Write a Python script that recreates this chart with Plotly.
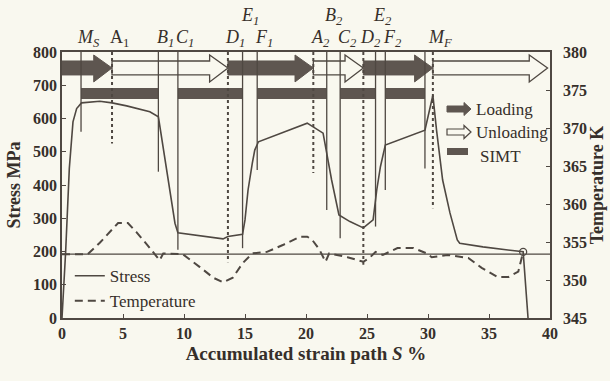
import plotly.graph_objects as go

# ---------------- data ----------------
stress_x = [0, 0.3, 0.6, 0.9, 1.2, 1.6, 3.1, 4.1, 5.3, 6.4, 7.2, 7.9, 9.26, 9.5, 13.2, 13.6,
            14.8, 15.0, 15.25, 15.6, 15.8, 16.1, 20.1, 21.4, 21.6, 22.1, 22.7, 23.6, 24.7, 25.5,
            25.8, 26.1, 26.5, 29.75, 30.4, 30.7, 31.2, 31.8, 32.4, 32.6, 34.5, 36.7, 37.8, 38.2]
stress_y = [0, 200, 450, 590, 630, 647, 652, 647, 638, 628, 620, 605, 285, 256, 238, 245,
            252, 295, 385, 466, 505, 530, 586, 556, 515, 415, 310, 290, 271, 295,
            385, 455, 520, 565, 670, 565, 415, 316, 235, 225, 214, 205, 199, 0]

temp_x = [0, 2.1, 3.1, 4.6, 5.4, 6.1, 7.0, 7.8, 8.0, 8.3, 9.9, 11.3, 12.4, 13.2, 14.0, 14.8,
          15.6, 16.8, 18.1, 19.5, 20.1, 20.5, 21.1, 21.6, 21.9, 23.4, 24.7, 25.2, 25.7, 26.3,
          27.5, 28.8, 29.9, 30.3, 31.6, 33.3, 34.4, 35.7, 36.6, 37.4, 37.8]
temp_y = [353.4, 353.4, 354.9, 357.5, 357.5, 356.3, 354.6, 353.0, 352.6, 353.5, 353.4, 351.7,
          350.3, 349.7, 350.3, 352.2, 353.5, 353.7, 354.6, 355.7, 355.7, 355.3, 354.0, 352.4,
          353.5, 353.0, 352.4, 352.9, 353.7, 353.3, 354.2, 354.2, 353.5, 353.0, 353.3, 352.9,
          351.6, 350.4, 350.4, 351.1, 353.7]

ambient_temp = 353.4

# characteristic points: label, strain position, lower end of marker line (stress), style, row
event_labels = ["<i>M<sub>S</sub></i>", "A<sub>1</sub>", "<i>B<sub>1</sub></i>", "<i>C<sub>1</sub></i>",
                "<i>D<sub>1</sub></i>", "<i>E<sub>1</sub></i>", "<i>F<sub>1</sub></i>", "<i>A<sub>2</sub></i>",
                "<i>B<sub>2</sub></i>", "<i>C<sub>2</sub></i>", "<i>D<sub>2</sub></i>", "<i>E<sub>2</sub></i>",
                "<i>F<sub>2</sub></i>", "", "<i>M<sub>F</sub></i>"]
event_x = [1.56, 4.1, 7.9, 9.5, 13.6, 14.8, 16.0, 20.6, 21.7, 22.8, 24.7, 25.7, 26.5, 29.75, 30.4]
event_bottom = [560, 525, 440, 205, 168, 210, 445, 436, 325, 240, 160, 275, 385, 450, 330]
event_dotted = [False, True, False, False, True, False, False, True, False, False, True, False, False, False, True]
event_upper = [False, False, False, False, False, True, False, False, True, False, False, True, False, False, False]

# loading / unloading arrows (start, end) and SIMT bars (start, end), in strain %
loading_spans = [(0, 4.1), (13.6, 20.6), (24.7, 30.4)]
unloading_spans = [(4.1, 13.6), (20.6, 24.7), (30.4, 39.8)]
simt_spans = [(1.56, 7.9), (9.5, 14.8), (16.0, 21.7), (22.8, 25.7), (26.5, 29.75)]

# ---------------- style ----------------
BG = "#f9f8ef"
INK = "#4f4842"
DARK = "#5e5650"
TXT = "#362f2a"
FONT = "Liberation Serif"

W, H = 610, 381
ML, MR, MT, MB = 62, 60, 52, 63
PW, PH = W - ML - MR, H - MT - MB

fig = go.Figure()

fig.add_trace(go.Scatter(x=stress_x, y=stress_y, mode="lines", name="Stress",
                         line=dict(color=INK, width=1.6), yaxis="y"))
fig.add_trace(go.Scatter(x=temp_x, y=temp_y, mode="lines", name="Temperature",
                         line=dict(color=INK, width=2, dash="8px,5px"), yaxis="y2"))
fig.add_trace(go.Scatter(x=temp_x[-1:], y=temp_y[-1:], mode="markers", showlegend=False,
                         marker=dict(symbol="circle-open", size=7, color=INK, line=dict(width=1.3)),
                         yaxis="y2"))

# ambient temperature line
fig.add_shape(type="line", xref="x", yref="y2", x0=0, x1=40, y0=ambient_temp, y1=ambient_temp,
              line=dict(color=INK, width=1.4))

# arrows
B0, B1_, H0, H1 = 731, 773, 710, 791
HEAD = 1.5
def arrow_path(a, b):
    m = (B0 + B1_) / 2
    return (f"M {a},{B0} L {b-HEAD},{B0} L {b-HEAD},{H0} L {b},{m} L {b-HEAD},{H1} "
            f"L {b-HEAD},{B1_} L {a},{B1_} Z")

for a, b in unloading_spans:
    fig.add_shape(type="path", xref="x", yref="y", path=arrow_path(a, b),
                  fillcolor=BG, line=dict(color=INK, width=1.3))
for a, b in loading_spans:
    fig.add_shape(type="path", xref="x", yref="y", path=arrow_path(a, b),
                  fillcolor=DARK, line=dict(color=DARK, width=1))
for a, b in simt_spans:
    fig.add_shape(type="rect", xref="x", yref="y", x0=a, x1=b, y0=659, y1=692,
                  fillcolor=DARK, line=dict(width=0))

# marker lines and labels
for lab, x, bot, dotted, upper in zip(event_labels, event_x, event_bottom, event_dotted, event_upper):
    fig.add_shape(type="line", xref="x", yref="y", x0=x, x1=x, y0=800, y1=bot,
                  line=dict(color=INK, width=2 if dotted else 1.3, dash="dot" if dotted else "solid"))
    if lab:
        fig.add_annotation(x=x, xref="x", y=1.135 if upper else 1.05, yref="paper",
                           text=lab, showarrow=False, xanchor="center", yanchor="middle",
                           xshift=7, font=dict(family=FONT, size=18, color=TXT))

# right-side legend (paper coords, from target-pixel positions)
def px2paper(px, py):
    return (px - ML) / PW, (H - MB - py) / PH

lx0, ly = px2paper(447, 109)
lx1, _ = px2paper(471, 109)
hx, _ = px2paper(464, 109)
dy = 3 / PH
dh = 6.5 / PH
fig.add_shape(type="path", xref="paper", yref="paper",
              path=f"M {lx0},{ly-dy} L {hx},{ly-dy} L {hx},{ly-dh} L {lx1},{ly} L {hx},{ly+dh} L {hx},{ly+dy} L {lx0},{ly+dy} Z",
              fillcolor=DARK, line=dict(color=DARK, width=1))
_, ly2 = px2paper(447, 132)
fig.add_shape(type="path", xref="paper", yref="paper",
              path=f"M {lx0},{ly2-dy} L {hx},{ly2-dy} L {hx},{ly2-dh} L {lx1},{ly2} L {hx},{ly2+dh} L {hx},{ly2+dy} L {lx0},{ly2+dy} Z",
              fillcolor=BG, line=dict(color=INK, width=1.2))
sx0, sy0 = px2paper(447, 155)
sx1, sy1 = px2paper(468, 148)
fig.add_shape(type="rect", xref="paper", yref="paper", x0=sx0, x1=sx1, y0=sy0, y1=sy1,
              fillcolor=DARK, line=dict(width=0))
for text, py, px in [("Loading", 109, 474), ("Unloading", 132, 474), ("SIMT", 156, 478)]:
    tx, ty = px2paper(px, py)
    fig.add_annotation(x=tx, y=ty, xref="paper", yref="paper", text=text, showarrow=False,
                       xanchor="left", yanchor="middle", font=dict(family=FONT, size=17, color=TXT))

axis_common = dict(showline=True, linecolor=INK, linewidth=1.5, ticks="inside", ticklen=4,
                   tickcolor=INK, showgrid=False, zeroline=False,
                   tickfont=dict(family=FONT, size=16, color=TXT, weight="bold"))

fig.update_layout(
    width=W, height=H,
    margin=dict(l=ML, r=MR, t=MT, b=MB, autoexpand=False),
    paper_bgcolor=BG, plot_bgcolor=BG,
    font=dict(family=FONT, color=TXT),
    showlegend=True,
    legend=dict(x=0.016, y=0.225, xanchor="left", yanchor="top", bgcolor="rgba(0,0,0,0)",
                font=dict(family=FONT, size=17, color=TXT), tracegroupgap=0),
    xaxis=dict(range=[0, 40], dtick=5, mirror=True, **axis_common,
               title=dict(text="Accumulated strain path <i>S</i> %", standoff=6,
                          font=dict(family=FONT, size=19, color=TXT, weight="bold"))),
    yaxis=dict(range=[0, 800], dtick=100, mirror=True, **axis_common,
               title=dict(text="Stress MPa", standoff=8,
                          font=dict(family=FONT, size=18, color=TXT, weight="bold"))),
    yaxis2=dict(range=[345, 380], dtick=5, overlaying="y", side="right", **axis_common,
                ticklabelstandoff=8,
                title=dict(text="Temperature K", standoff=4,
                           font=dict(family=FONT, size=18, color=TXT, weight="bold"))),
)

fig.write_html("out.html", config={"displayModeBar": False},
               post_script="document.body.style.margin='0';document.body.style.padding='0';"
                           "document.documentElement.style.background='%s';" % BG)
